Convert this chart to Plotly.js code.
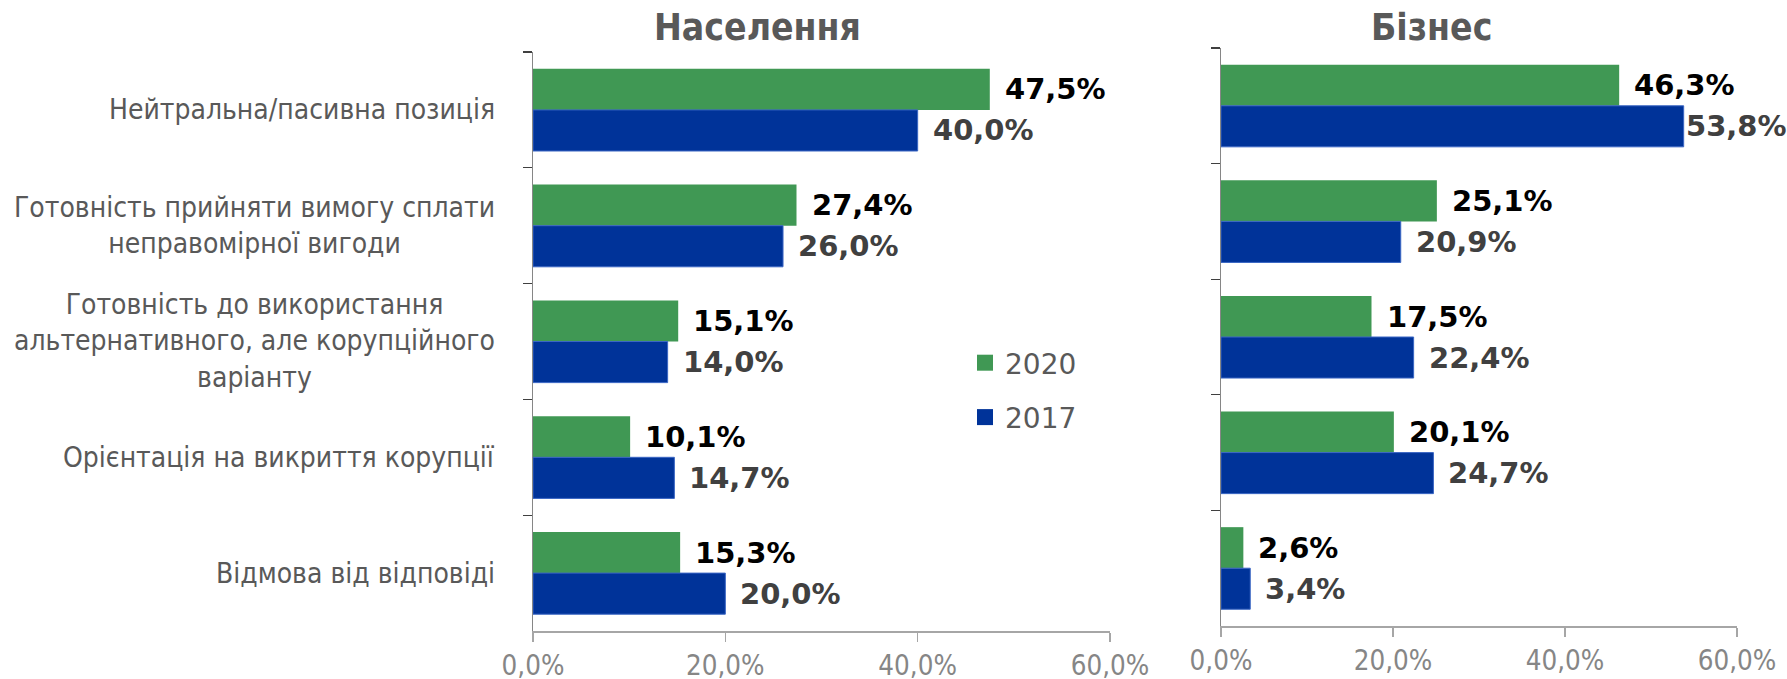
<!DOCTYPE html>
<html>
<head>
<meta charset="utf-8">
<script src="https://cdn.plot.ly/plotly-3.0.1.min.js"></script>
<style>
html,body{margin:0;padding:0;background:#fff;}
#chart{width:1787px;height:679px;}
</style>
</head>
<body>
<div id="chart"></div>
<script>
// ---- data ----
var categories = [
  "Нейтральна/пасивна позиція",
  "Готовність прийняти вимогу сплати<br>неправомірної вигоди",
  "Готовність до використання<br>альтернативного, але корупційного<br>варіанту",
  "Орієнтація на викриття корупції",
  "Відмова від відповіді"
];
var panelTitles = ["Населення", "Бізнес"];
var seriesNames = ["2020", "2017"];
var population2020 = [47.5, 27.4, 15.1, 10.1, 15.3];
var population2017 = [40.0, 26.0, 14.0, 14.7, 20.0];
var business2020 = [46.3, 25.1, 17.5, 20.1, 2.6];
var business2017 = [53.8, 20.9, 22.4, 24.7, 3.4];
var xTickVals = [0, 20, 40, 60];
var xTickText = ["0,0%", "20,0%", "40,0%", "60,0%"];

// ---- styles ----
var FONT_C = "DejaVu Sans Condensed, DejaVu Sans, sans-serif";
var FONT = "DejaVu Sans, sans-serif";
var GREEN = "#409854";
var BLUE = "#003399";
var catIds = categories.map(function(c, i){ return "c" + i; });

function fmt(v){ return v.toFixed(1).replace(".", ",") + "%"; }

function barTrace(vals, color, xa, ya, name){
  return {
    type: "bar", orientation: "h",
    x: vals, y: catIds, xaxis: xa, yaxis: ya,
    name: name, showlegend: false,
    marker: {color: color, line: {width: color === BLUE ? 1 : 0, color: "#3a66c4"}},
    hoverinfo: "x"
  };
}

var data = [
  barTrace(population2020, GREEN, "x", "y", seriesNames[0]),
  barTrace(population2017, BLUE, "x", "y", seriesNames[1]),
  barTrace(business2020, GREEN, "x2", "y2", seriesNames[0]),
  barTrace(business2017, BLUE, "x2", "y2", seriesNames[1]),
  {type: "scatter", mode: "markers", x: [null], y: [null], name: seriesNames[0],
   legendgroup: "a", marker: {symbol: "square", size: 16, color: GREEN}, xaxis: "x", yaxis: "y"},
  {type: "scatter", mode: "markers", x: [null], y: [null], name: seriesNames[1],
   legendgroup: "b", marker: {symbol: "square", size: 16, color: BLUE}, xaxis: "x", yaxis: "y"}
];

var annotations = [];
function addLabels(vals, xr, yr, isGreen){
  vals.forEach(function(v, i){
    annotations.push({
      xref: xr, yref: yr, x: v, y: catIds[i],
      text: "<b>" + fmt(v) + "</b>", showarrow: false,
      xanchor: "left", yanchor: "middle",
      xshift: v > 50 ? 0 : 13, yshift: isGreen ? 20.5 : -20.5,
      font: {family: FONT, size: 29, color: isGreen ? "#000000" : "#404040"}
    });
  });
}
addLabels(population2020, "x", "y", true);
addLabels(population2017, "x", "y", false);
addLabels(business2020, "x2", "y2", true);
addLabels(business2017, "x2", "y2", false);

categories.forEach(function(c, i){
  annotations.push({
    xref: "paper", yref: "y", x: 497/1787, y: catIds[i],
    text: c, showarrow: false, xanchor: "right", yanchor: "middle", align: "center",
    font: {family: FONT_C, size: 28, color: "#595959"}
  });
});

annotations.push({xref: "paper", yref: "paper", x: 757/1787, y: 1 - 28/679,
  text: "<b>" + panelTitles[0] + "</b>", showarrow: false, xanchor: "center", yanchor: "middle",
  font: {family: FONT_C, size: 37, color: "#595959"}});
annotations.push({xref: "paper", yref: "paper", x: 1431/1787, y: 1 - 28/679,
  text: "<b>" + panelTitles[1] + "</b>", showarrow: false, xanchor: "center", yanchor: "middle",
  font: {family: FONT_C, size: 37, color: "#595959"}});

function xAxis(domain, anchor){
  return {
    domain: domain, anchor: anchor, range: [0, 60], fixedrange: true,
    tickvals: xTickVals, ticktext: xTickText,
    showgrid: false, zeroline: false,
    showline: true, linecolor: "#a6a6a6", linewidth: 1.5,
    ticks: "outside", ticklen: 9, tickcolor: "#a6a6a6", tickwidth: 1.5,
    tickfont: {family: FONT_C, size: 27.5, color: "#868686"}
  };
}
function yAxis(domain, anchor){
  return {
    domain: domain, anchor: anchor, type: "category",
    categoryorder: "array", categoryarray: catIds,
    autorange: "reversed", fixedrange: true,
    showticklabels: false, showgrid: false, zeroline: false,
    showline: true, linecolor: "#868686", linewidth: 1.5,
    ticks: "outside", tickson: "boundaries", ticklen: 9, tickcolor: "#404040", tickwidth: 1.2
  };
}

var layout = {
  width: 1787, height: 679,
  margin: {l: 0, r: 0, t: 0, b: 0},
  paper_bgcolor: "#ffffff", plot_bgcolor: "#ffffff",
  separators: ", ",
  barmode: "group", bargap: 0.29, bargroupgap: 0,
  font: {family: FONT_C, color: "#595959"},
  xaxis: xAxis([533/1787, 1110/1787], "y"),
  yaxis: yAxis([1 - 631/679, 1 - 52/679], "x"),
  xaxis2: xAxis([1221/1787, 1737/1787], "y2"),
  yaxis2: yAxis([1 - 626/679, 1 - 48/679], "x2"),
  showlegend: true,
  legend: {x: 965/1787, y: 1 - 338/679, xanchor: "left", yanchor: "top",
    bgcolor: "rgba(0,0,0,0)", tracegroupgap: 15, itemclick: false, itemdoubleclick: false,
    font: {family: FONT, size: 28, color: "#595959"}},
  annotations: annotations
};

Plotly.newPlot("chart", data, layout, {displayModeBar: false, staticPlot: true});
</script>
</body>
</html>
